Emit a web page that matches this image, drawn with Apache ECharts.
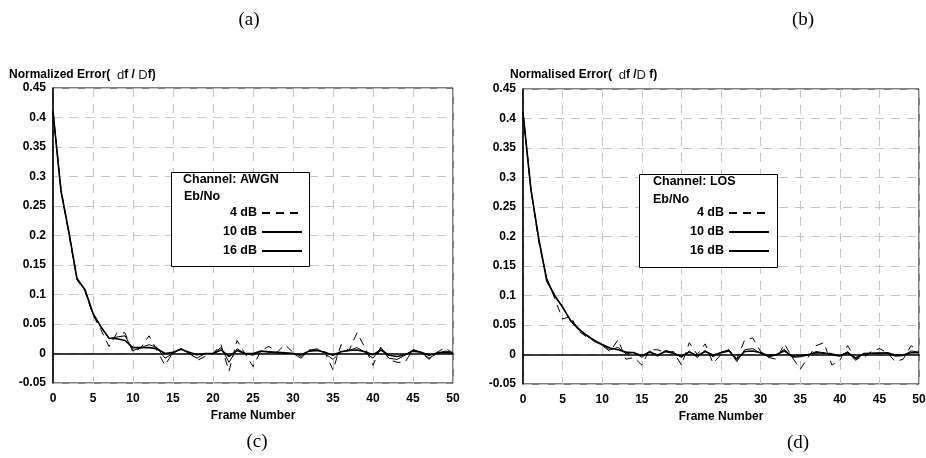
<!DOCTYPE html>
<html>
<head>
<meta charset="utf-8">
<script src="https://cdn.jsdelivr.net/npm/echarts@6/dist/echarts.min.js"></script>
<style>
  html, body { margin: 0; padding: 0; background: #fff; }
  #chart { width: 926px; height: 458px; }
</style>
</head>
<body>
<div id="chart"></div>
<script>
// frame index 0..50
var frames = [0, 1, 2, 3, 4, 5, 6, 7, 8, 9, 10, 11, 12, 13, 14, 15, 16, 17, 18, 19, 20,
  21, 22, 23, 24, 25, 26, 27, 28, 29, 30, 31, 32, 33, 34, 35, 36, 37, 38, 39, 40,
  41, 42, 43, 44, 45, 46, 47, 48, 49, 50];

// (c) AWGN channel
var awgn4 = [0.41, 0.28, 0.2, 0.125, 0.105, 0.065, 0.04, 0.012, 0.035, 0.035, 0.002, 0.01, 0.03, 0.005, -0.02, 0.002, 0.008, 0.003, -0.012, -0.005,
  0.0, 0.015, -0.03, 0.022, 0.0, -0.022, 0.005, 0.012, 0.002, 0.015, 0.002, -0.005, 0.006, 0.006, 0.002, -0.028, 0.015, 0.005, 0.035, 0.01,
  -0.02, 0.012, -0.01, -0.015, -0.015, 0.007, 0.002, -0.01, 0.002, 0.01, 0.0];
var awgn10 = [0.41, 0.275, 0.205, 0.125, 0.108, 0.067, 0.045, 0.025, 0.028, 0.03, 0.005, 0.01, 0.015, 0.01, -0.008, 0.0, 0.008, 0.0, -0.008, 0.0,
  0.0, 0.01, -0.015, 0.008, 0.0, -0.003, 0.004, 0.002, 0.001, 0.001, 0.0, -0.008, 0.005, 0.008, 0.0, -0.01, 0.003, 0.005, 0.01, 0.002,
  -0.008, 0.01, -0.008, -0.01, -0.003, 0.006, 0.002, -0.008, 0.0, 0.004, 0.002];
var awgn16 = [0.41, 0.275, 0.205, 0.127, 0.108, 0.068, 0.045, 0.026, 0.025, 0.022, 0.01, 0.01, 0.01, 0.008, 0.0, 0.002, 0.007, 0.002, -0.002, 0.0,
  0.0, 0.006, -0.005, 0.005, 0.0, 0.0, 0.004, 0.003, 0.002, 0.001, 0.0, -0.002, 0.004, 0.005, 0.002, -0.003, 0.003, 0.005, 0.006, 0.003,
  -0.002, 0.006, -0.003, -0.005, -0.002, 0.004, 0.002, -0.003, 0.001, 0.002, 0.0];

// (d) LOS channel
var los4 = [0.41, 0.28, 0.19, 0.13, 0.095, 0.06, 0.065, 0.04, 0.03, 0.025, 0.015, 0.005, 0.025, -0.008, -0.005, -0.018, 0.008, 0.008, 0.003, 0.005,
  -0.018, 0.02, 0.0, 0.018, -0.015, 0.0, 0.008, -0.008, 0.025, 0.028, 0.005, -0.005, -0.008, 0.018, -0.005, -0.025, -0.005, 0.015, 0.02, -0.018,
  -0.01, 0.015, -0.008, -0.005, 0.005, 0.01, 0.003, -0.012, -0.008, 0.015, 0.005];
var los10 = [0.41, 0.28, 0.195, 0.128, 0.098, 0.082, 0.056, 0.042, 0.032, 0.022, 0.016, 0.008, 0.012, 0.001, 0.004, -0.005, 0.006, -0.003, 0.007, 0.003,
  -0.005, 0.006, -0.005, 0.007, -0.004, 0.004, 0.008, -0.012, 0.008, 0.01, 0.002, -0.004, -0.001, 0.009, -0.005, -0.004, -0.001, 0.005, 0.003, -0.001,
  -0.003, 0.005, -0.01, 0.002, 0.002, 0.003, 0.002, -0.003, -0.002, 0.006, 0.004];
var los16 = [0.41, 0.28, 0.195, 0.125, 0.1, 0.08, 0.058, 0.044, 0.033, 0.024, 0.017, 0.011, 0.008, 0.004, 0.003, -0.002, 0.004, -0.001, 0.005, 0.002,
  -0.003, 0.004, -0.002, 0.005, -0.001, 0.003, 0.006, -0.008, 0.005, 0.006, 0.003, -0.002, 0.0, 0.006, -0.003, -0.002, 0.0, 0.003, 0.002, 0.001,
  -0.002, 0.003, -0.006, 0.001, 0.002, 0.002, 0.003, -0.001, -0.001, 0.003, 0.003];

var seriesNames = ['4 dB', '10 dB', '16 dB'];

var FONT = '"Liberation Sans", Arial, sans-serif';
var SERIF = '"Liberation Serif", "Times New Roman", serif';

function pairs (ys) {
  var out = [];
  for (var i = 0; i < frames.length; i++) {
    out.push([frames[i], ys[i]]);
  }
  return out;
}

function makeXAxis (idx) {
  return {
    gridIndex: idx,
    type: 'value',
    min: 0,
    max: 50,
    interval: 5,
    name: 'Frame Number',
    nameLocation: 'middle',
    nameGap: 26,
    nameTextStyle: { fontFamily: FONT, fontSize: 12, fontWeight: 'bold', color: '#000' },
    axisLine: { show: true, lineStyle: { color: '#000', width: 1.5 } },
    axisTick: { show: false },
    axisLabel: { fontFamily: FONT, fontSize: 12, fontWeight: 'bold', color: '#000', margin: 10 },
    splitLine: { show: true, lineStyle: { color: '#c4c4c4', type: [9, 7], width: 1 } }
  }
}

function makeYAxis (idx) {
  return {
    gridIndex: idx,
    type: 'value',
    min: -0.05,
    max: 0.45,
    interval: 0.05,
    axisLine: { show: true, lineStyle: { color: '#000', width: 1.5 } },
    axisTick: { show: false },
    axisLabel: { fontFamily: FONT, fontSize: 12, fontWeight: 'bold', color: '#000', margin: 7 },
    splitLine: { show: true, lineStyle: { color: '#c4c4c4', type: [9, 7], width: 1 } }
  }
}

function makeSeries (idx, data4, data10, data16) {
  return [
    { name: seriesNames[0], type: 'line', xAxisIndex: idx, yAxisIndex: idx, symbol: 'none',
      data: pairs(data4), lineStyle: { color: '#000', width: 1, type: [8, 6] }, itemStyle: { color: '#000' } },
    { name: seriesNames[1], type: 'line', xAxisIndex: idx, yAxisIndex: idx, symbol: 'none',
      data: pairs(data10), lineStyle: { color: '#000', width: 1 }, itemStyle: { color: '#000' } },
    { name: seriesNames[2], type: 'line', xAxisIndex: idx, yAxisIndex: idx, symbol: 'none',
      data: pairs(data16), lineStyle: { color: '#000', width: 1.6 }, itemStyle: { color: '#000' } }
  ]
}

function makeLegend (right) {
  return {
    orient: 'vertical',
    align: 'right',
    right: right,
    top: 206,
    padding: 0,
    itemWidth: 40,
    itemHeight: 14,
    itemGap: 5,
    selectedMode: false,
    z: 6,
    data: seriesNames,
    // hide the marker that line series put in the middle of the legend line
    itemStyle: { opacity: 0, color: 'transparent', borderWidth: 0 },
    lineStyle: { type: 'inherit' },
    textStyle: { fontFamily: FONT, fontSize: 12.5, fontWeight: 'bold', color: '#000', lineHeight: 14 }
  }
}

function titleText (x, text) {
  return {
    type: 'text', x: x, y: 75, z: 4,
    style: {
      text: text, verticalAlign: 'middle',
      rich: {
        b: { fontFamily: FONT, fontSize: 12, fontWeight: 'bold', fill: '#000' },
        s: { fontFamily: FONT, fontSize: 13, fontWeight: 'normal', fill: '#222' }
      }
    }
  }
}

function plainText (x, y, text, font, size, weight, align) {
  return {
    type: 'text', x: x, y: y, z: 5,
    style: { text: text, fontFamily: font, fontSize: size, fontWeight: weight, fill: '#000',
      align: align || 'left', verticalAlign: 'middle' }
  }
}

function legendBox (x, y, w, h) {
  return {
    type: 'rect', z: 3,
    shape: { x: x, y: y, width: w, height: h },
    style: { fill: '#fff', stroke: '#000', lineWidth: 1 }
  }
}

var chart = echarts.init(document.getElementById('chart'));

var option = {
  animation: false,
  backgroundColor: '#fff',
  grid: [
    { left: 53, top: 88, width: 400, height: 295, show: true, borderColor: '#000', borderWidth: 1,
      backgroundColor: 'transparent', outerBoundsMode: 'none' },
    { left: 523, top: 89, width: 396, height: 295, show: true, borderColor: '#000', borderWidth: 1,
      backgroundColor: 'transparent', outerBoundsMode: 'none' }
  ],
  xAxis: [makeXAxis(0), makeXAxis(1)],
  yAxis: [makeYAxis(0), makeYAxis(1)],
  legend: [
    Object.assign(makeLegend(623), { top: 206, itemGap: 5 }),
    Object.assign(makeLegend(156), { top: 206, itemGap: 5 })
  ],
  series: makeSeries(0, awgn4, awgn10, awgn16).concat(makeSeries(1, los4, los10, los16)),
  graphic: [
    titleText(9, '{b|Normalized Error(  }{s|d}{b|f / }{s|D}{b|f)}'),
    titleText(510, '{b|Normalised Error(  }{s|d}{b|f /}{s|D}{b| f)}'),
    legendBox(171.5, 172.5, 138, 94),
    plainText(183, 180, 'Channel: AWGN', FONT, 12.5, 'bold'),
    plainText(184, 197, 'Eb/No', FONT, 12.5, 'bold'),
    legendBox(639.5, 174.5, 138, 93),
    plainText(653, 182, 'Channel: LOS', FONT, 12.5, 'bold'),
    plainText(653, 200, 'Eb/No', FONT, 12.5, 'bold'),
    plainText(249, 20, '(a)', SERIF, 19, 'normal', 'center'),
    plainText(803, 20, '(b)', SERIF, 19, 'normal', 'center'),
    plainText(257, 442, '(c)', SERIF, 19, 'normal', 'center'),
    plainText(798, 443, '(d)', SERIF, 19, 'normal', 'center')
  ]
};

chart.setOption(option);
</script>
</body>
</html>
